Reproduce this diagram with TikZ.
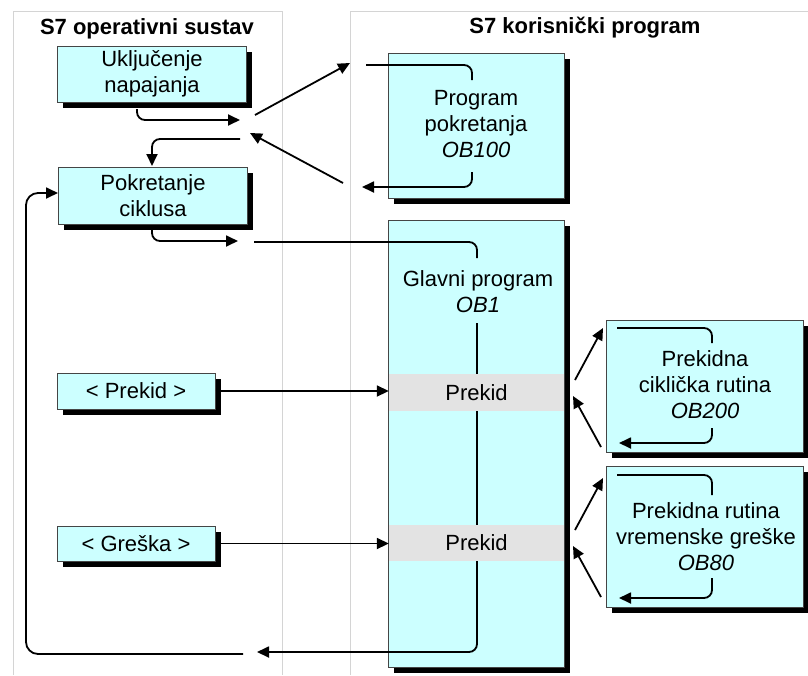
\documentclass[tikz,border=0pt]{standalone}
\usepackage{fontspec}
\setmainfont{Liberation Sans}
\usetikzlibrary{arrows.meta,shadows}
\definecolor{boxfill}{HTML}{CCFFFF}
\definecolor{bandgray}{HTML}{E3E3E3}
\definecolor{panelgray}{HTML}{D4D4D4}
\definecolor{boxline}{HTML}{454545}
\begin{document}
\begin{tikzpicture}[x=1pt,y=-1pt,
  box/.style={draw=boxline, line width=1pt, fill=boxfill, inner sep=0pt,
    drop shadow={shadow xshift=5.5pt,shadow yshift=-5.5pt,fill=black,opacity=1}},
  lbl/.style={font=\fontsize{22}{26}\selectfont, align=center, inner sep=0pt},
  ttl/.style={font=\fontsize{22}{26}\selectfont\bfseries, inner sep=0pt},
  flow/.style={line width=1.8pt, draw=black, rounded corners=8pt},
  arr/.style={flow, -{Triangle[length=12pt,width=11pt]}},
  panel/.style={draw=panelgray, line width=1pt},
  band/.style={fill=bandgray, inner sep=0pt, font=\fontsize{22}{26}\selectfont}
]
\useasboundingbox (0,0) rectangle (808,675);

% panels
\draw[panel] (13,675) -- (13,11) -- (282,11) -- (282,675);
\draw[panel] (350,675) -- (350,11) -- (808,11);

% titles
\node[ttl] (t1) at (147,29) {S7 operativni sustav};
\node[ttl] (t2) at (585,28) {S7 korisnički program};

% left boxes
\node[box,lbl,minimum width=189pt,minimum height=56pt] (pwr) at (152,74) {Uključenje\\napajanja};
\node[box,lbl,minimum width=189pt,minimum height=57pt] (cyc) at (153,195.5) {Pokretanje\\ciklusa};
\node[box,lbl,minimum width=158pt,minimum height=36pt] (intr) at (136,391) {< Prekid >};
\node[box,lbl,minimum width=158pt,minimum height=35pt] (err) at (136,543.5) {< Greška >};

% right boxes
\node[box,minimum width=176pt,minimum height=145pt] (ob100) at (476,125.5) {};
\node[lbl] (ob100t) at (476,124.5) {Program\\pokretanja\\\textit{OB100}};
\node[box,minimum width=176pt,minimum height=447pt] (ob1) at (476,443.5) {};
\node[lbl] (ob1t) at (478,292) {Glavni program\\\textit{OB1}};
\node[band,minimum width=175pt,minimum height=37pt] (band1) at (476.5,392.5) {Prekid};
\node[band,minimum width=175pt,minimum height=36pt] (band2) at (476.5,543) {Prekid};
\node[box,minimum width=197pt,minimum height=132pt] (ob200) at (704.5,386) {};
\node[lbl] (ob200t) at (705,385) {Prekidna\\ciklička rutina\\\textit{OB200}};
\node[box,minimum width=197pt,minimum height=141pt] (ob80) at (704.5,536.5) {};
\node[lbl] (ob80t) at (706,536.5) {Prekidna rutina\\vremenske greške\\\textit{OB80}};

% startup flow
\coordinate (u0) at (137,109);
\coordinate (u1) at (240,120);
\draw[arr] (u0) |- (u1);
\coordinate (m1) at (255,115);
\coordinate (m2) at (350,63);
\draw[arr] (m1) -- (m2);
\coordinate (m3) at (343,183);
\coordinate (m4) at (250,133);
\draw[arr] (m3) -- (m4);
\coordinate (m5) at (240,139);
\coordinate (m6) at (152,166);
\draw[arr] (m5) -| (m6);

% OB100 inner
\coordinate (o1) at (366,65);
\coordinate (o2) at (472,80);
\draw[flow] (o1) -| (o2);
\coordinate (o3) at (472,172);
\coordinate (o4) at (362,187);
\draw[arr] (o3) |- (o4);

% cycle flow
\coordinate (c0) at (152,230);
\coordinate (c1) at (238,241);
\draw[arr] (c0) |- (c1);
\coordinate (c2) at (254,242);
\coordinate (c3) at (477,258);
\draw[flow] (c2) -| (c3);
\coordinate (g1) at (477,323);
\draw[flow] (g1) -- (g1 |- band1.north);
\draw[flow] (g1 |- band1.south) -- (g1 |- band2.north);
\coordinate (g2) at (257,652);
\draw[arr] (g1 |- band2.south) |- (g2);
\coordinate (l0) at (243,654);
\coordinate (l1) at (26,193);
\draw[arr,rounded corners=12pt] (l0) -| (l1) -- (l1 -| cyc.west);

% interrupts
\draw[arr] (intr.east) -- (intr.east -| band1.west);
\draw[arr] (err.east) -- (err.east -| band2.west);

% to/from OB200
\coordinate (r1) at (575,380);
\coordinate (r2) at (603,328);
\draw[arr] (r1) -- (r2);
\coordinate (r3) at (601,447);
\coordinate (r4) at (573,396);
\draw[arr] (r3) -- (r4);
\coordinate (s1) at (617,328);
\coordinate (s2) at (712,343);
\draw[flow] (s1) -| (s2);
\coordinate (s3) at (712,428);
\coordinate (s4) at (619,443);
\draw[arr] (s3) |- (s4);

% to/from OB80
\coordinate (r5) at (575,530);
\coordinate (r6) at (603,478);
\draw[arr] (r5) -- (r6);
\coordinate (r7) at (601,597);
\coordinate (r8) at (573,546);
\draw[arr] (r7) -- (r8);
\coordinate (s5) at (617,475);
\coordinate (s6) at (712,495);
\draw[flow] (s5) -| (s6);
\coordinate (s7) at (712,578);
\coordinate (s8) at (619,598);
\draw[arr] (s7) |- (s8);
\end{tikzpicture}
\end{document}
